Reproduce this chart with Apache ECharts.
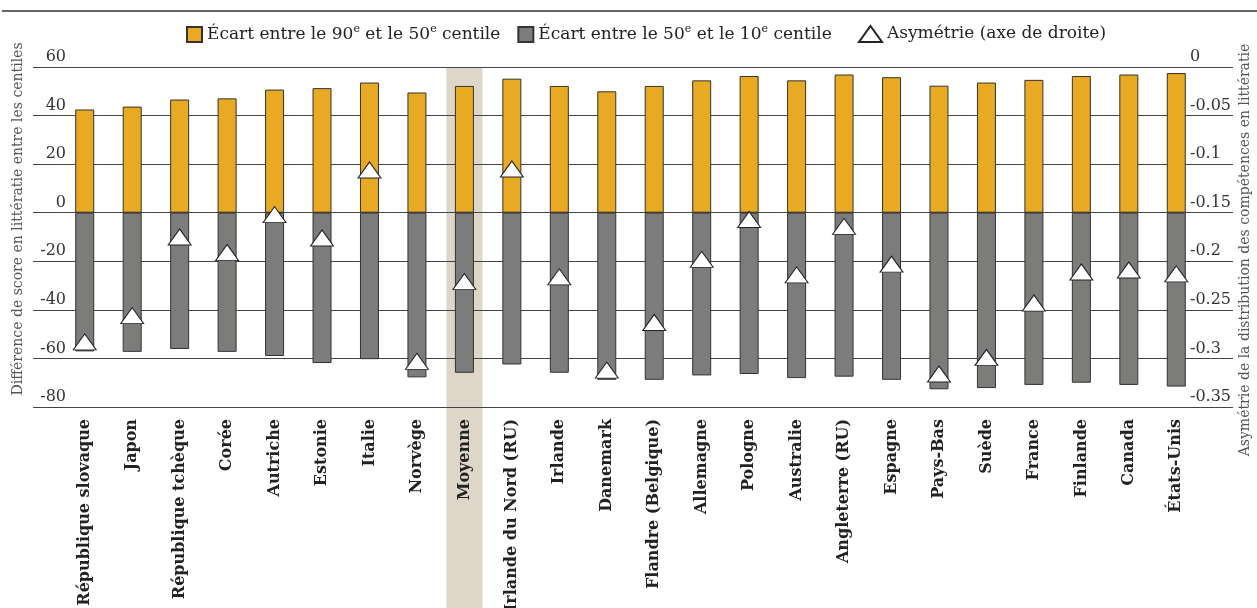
<!DOCTYPE html>
<html>
<head>
<meta charset="utf-8">
<script src="https://cdn.jsdelivr.net/npm/echarts@6/dist/echarts.min.js"></script>
<style>
  html, body { margin: 0; padding: 0; background: #fff; }
  #chart { width: 1257px; height: 608px; }
</style>
</head>
<body>
<div id="chart"></div>
<script>
// pays, dans l'ordre du graphique
var categories = ['République slovaque', 'Japon', 'République tchèque', 'Corée', 'Autriche', 'Estonie', 'Italie', 'Norvège',
  'Moyenne', 'Irlande du Nord (RU)', 'Irlande', 'Danemark', 'Flandre (Belgique)', 'Allemagne', 'Pologne', 'Australie',
  'Angleterre (RU)', 'Espagne', 'Pays-Bas', 'Suède', 'France', 'Finlande', 'Canada', 'États-Unis'];
// écart 90e - 50e centile
var gap90to50 = [42.5, 43.7, 46.6, 47.1, 50.7, 51.3, 53.6, 49.5, 52.2, 55.2, 52.2, 50.0, 52.2, 54.5, 56.3, 54.5,
  56.9, 55.8, 52.3, 53.6, 54.7, 56.3, 56.9, 57.5];
// écart 50e - 10e centile (affiché en négatif)
var gap50to10 = [-57.1, -57.3, -56.1, -57.3, -59.0, -61.9, -60.3, -67.8, -65.9, -62.5, -65.9, -68.8, -68.8, -67.0, -66.4, -68.1,
  -67.5, -68.8, -72.7, -72.2, -70.9, -70.0, -70.9, -71.6];
// asymétrie (axe de droite)
var skewness = [-0.283, -0.256, -0.175, -0.191, -0.152, -0.176, -0.106, -0.303, -0.221, -0.105, -0.216, -0.312, -0.263, -0.198,
  -0.157, -0.214, -0.164, -0.203, -0.316, -0.299, -0.243, -0.211, -0.209, -0.213];
var highlighted = 'Moyenne';

var leftAxis = { min: -80, max: 60, interval: 20 };
var rightAxis = { min: -0.35, max: 0, interval: 0.05 };

var seriesNames = ['Écart entre le 90e et le 50e centile', 'Écart entre le 50e et le 10e centile', 'Asymétrie (axe de droite)'];

(function () {
  var myChart = echarts.init(document.getElementById('chart'));
  var font = 'DejaVu Serif';

  // "90e" -> 90 + e en exposant
  var supFormatter = function (name) {
    return name.split(/(\d+)e /).map(function (part, i) {
      if (!part) return '';
      return i % 2 ? '{t|' + part + '}{sup|e}{t| }' : '{t|' + part + '}';
    }).join('');
  };
  var legendText = {
    fontFamily: font, fontSize: 17, color: '#222',
    rich: {
      t: { fontFamily: font, fontSize: 17, lineHeight: 20, color: '#222' },
      sup: { fontFamily: font, fontSize: 11, lineHeight: 20, padding: [0, 0, 10, 0], color: '#222' }
    }
  };

  var option = {
    animation: false,
    textStyle: { fontFamily: font },
    legend: [
      {
        data: [{ name: seriesNames[0], icon: 'rect' }, { name: seriesNames[1], icon: 'rect' }],
        left: 181, top: 19,
        itemWidth: 15, itemHeight: 15, itemGap: 17,
        formatter: supFormatter,
        textStyle: legendText
      },
      {
        data: [{ name: seriesNames[2], icon: 'triangle' }],
        left: 853, top: 20,
        itemWidth: 23, itemHeight: 16,
        textStyle: { fontFamily: font, fontSize: 17, color: '#222' }
      }
    ],
    graphic: [
      { type: 'line', shape: { x1: 2, y1: 11, x2: 1257, y2: 11 }, style: { stroke: '#666', lineWidth: 2 } },
      {
        type: 'text', x: 18, y: 219, rotation: Math.PI / 2,
        style: { text: 'Différence de score en littératie entre les centiles', fontFamily: font, fontSize: 14, fill: '#555', align: 'center', verticalAlign: 'middle' }
      },
      {
        type: 'text', x: 1245, y: 250, rotation: Math.PI / 2,
        style: { text: 'Asymétrie de la distribution des compétences en littératie', fontFamily: font, fontSize: 14, fill: '#555', align: 'center', verticalAlign: 'middle' }
      }
    ],
    grid: [
      // axes et lignes de grille
      { left: 33, right: 24, top: 67, bottom: 201, outerBoundsMode: 'none' },
      // barres
      { left: 61, right: 57, top: 67, bottom: 201, outerBoundsMode: 'none' },
      // bande de la moyenne
      { left: 61, right: 57, top: 67, bottom: 0, outerBoundsMode: 'none' }
    ],
    xAxis: [
      { type: 'value', gridIndex: 0, show: false },
      {
        type: 'category', gridIndex: 1, data: categories,
        axisLine: { show: false, onZero: false }, axisTick: { show: false },
        axisLabel: { interval: 0, rotate: 90, margin: 12, fontFamily: font, fontSize: 16, fontWeight: 'bold', color: '#222' }
      },
      { type: 'category', gridIndex: 2, data: categories, show: false }
    ],
    yAxis: [
      {
        type: 'value', gridIndex: 0, position: 'left', min: leftAxis.min, max: leftAxis.max, interval: leftAxis.interval,
        axisLine: { show: false }, axisTick: { show: false },
        axisLabel: { inside: true, align: 'right', margin: 33, verticalAlign: 'bottom', padding: [0, 0, 2, 0], fontFamily: font, fontSize: 16, color: '#333' },
        splitLine: { lineStyle: { color: '#444', width: 1 } },
        z: 1
      },
      {
        type: 'value', gridIndex: 0, position: 'right', min: rightAxis.min, max: rightAxis.max, interval: rightAxis.interval,
        axisLine: { show: false }, axisTick: { show: false },
        axisLabel: {
          inside: true, align: 'left', margin: 43, verticalAlign: 'bottom', padding: [0, 0, 2, 0], fontFamily: font, fontSize: 16, color: '#333',
          formatter: function (v) { return String(+v.toFixed(2)); }
        },
        splitLine: { show: false }
      },
      { type: 'value', gridIndex: 1, min: leftAxis.min, max: leftAxis.max, show: false, splitLine: { show: false } },
      { type: 'value', gridIndex: 1, position: 'right', min: rightAxis.min, max: rightAxis.max, show: false, splitLine: { show: false } },
      { type: 'value', gridIndex: 2, min: 0, max: 1, show: false, splitLine: { show: false } }
    ],
    series: [
      {
        name: 'band', type: 'bar', xAxisIndex: 2, yAxisIndex: 4, barWidth: 36, z: -1, silent: true,
        itemStyle: { color: '#DED6C8' },
        data: categories.map(function (c) { return c === highlighted ? 1 : '-'; })
      },
      {
        name: seriesNames[0], type: 'bar', xAxisIndex: 1, yAxisIndex: 2, stack: 'gap', barWidth: 19,
        itemStyle: { color: '#E8AA22', borderColor: '#333', borderWidth: 1 },
        data: gap90to50
      },
      {
        name: seriesNames[1], type: 'bar', xAxisIndex: 1, yAxisIndex: 2, stack: 'gap', barWidth: 19,
        itemStyle: { color: '#7C7D7A', borderColor: '#333', borderWidth: 1 },
        data: gap50to10
      },
      {
        name: seriesNames[2], type: 'scatter', xAxisIndex: 1, yAxisIndex: 3, symbol: 'triangle', symbolSize: [23, 16], z: 5,
        itemStyle: { color: '#fff', borderColor: '#222', borderWidth: 1, opacity: 1 },
        data: skewness
      }
    ]
  };
  myChart.setOption(option);
  window.addEventListener('resize', function () {
    myChart.resize();
  });
})();
</script>
</body>
</html>
